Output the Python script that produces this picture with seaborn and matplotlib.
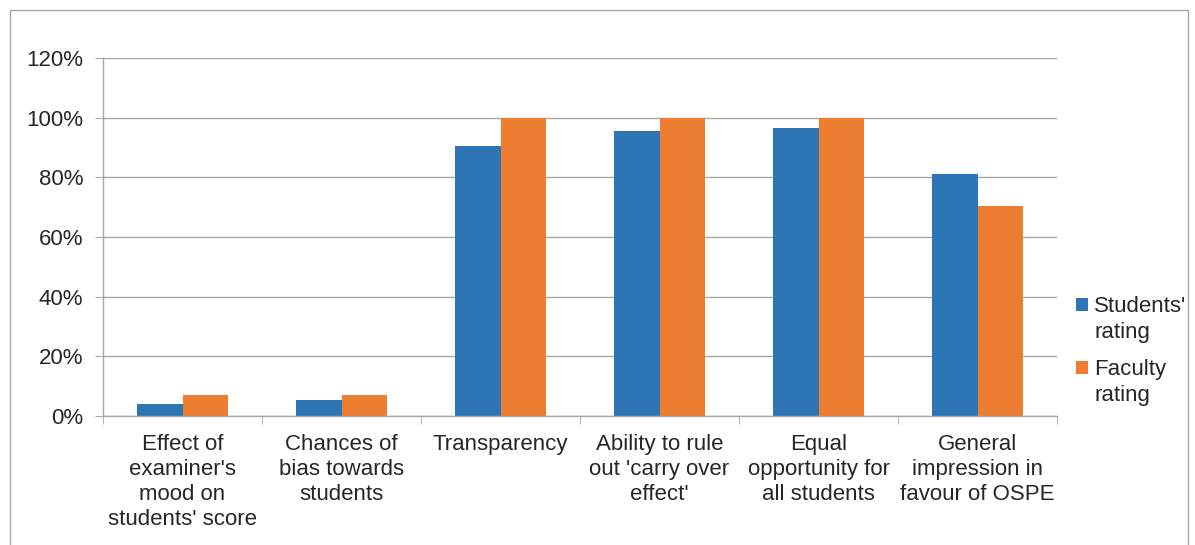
import pandas as pd
import matplotlib.pyplot as plt
import seaborn as sns
from matplotlib.patches import Rectangle
from matplotlib.ticker import PercentFormatter

categories = [
    "Effect of\nexaminer's\nmood on\nstudents' score",
    "Chances of\nbias towards\nstudents",
    "Transparency",
    "Ability to rule\nout 'carry over\neffect'",
    "Equal\nopportunity for\nall students",
    "General\nimpression in\nfavour of OSPE",
]
students_rating = [4, 5.5, 90.5, 95.5, 96.5, 81]
faculty_rating = [7, 7, 100, 100, 100, 70.5]
series_names = ["Students'\nrating", "Faculty\nrating"]

df = pd.DataFrame({
    "category": categories * 2,
    "rating": series_names[0:1] * len(categories) + series_names[1:2] * len(categories),
    "value": students_rating + faculty_rating,
})

sns.set_style("white")
plt.rcParams["font.family"] = ["Liberation Sans", "DejaVu Sans"]
fs = 16
W, H = 1195, 545

fig = plt.figure(figsize=(W / 100, H / 100), dpi=100)
ax = fig.add_axes([103 / W, 1 - 416 / H, (1057 - 103) / W, (416 - 58) / H])

sns.barplot(
    data=df, x="category", y="value", hue="rating",
    palette=["#2e75b6", "#ed7d31"], width=0.57, saturation=1,
    linewidth=0, ax=ax, legend=True,
)

ax.set_ylim(0, 120)
ax.set_xlim(-0.5, len(categories) - 0.5)
ax.set_yticks(range(0, 121, 20))
ax.yaxis.set_major_formatter(PercentFormatter(decimals=0))
ax.grid(axis="y", color="#a6a6a6", linewidth=1)
ax.set_axisbelow(True)
for s in ["top", "right"]:
    ax.spines[s].set_visible(False)
for s in ["left", "bottom"]:
    ax.spines[s].set_color("#a6a6a6")
    ax.spines[s].set_linewidth(1)
ax.set_xlabel("")
ax.set_ylabel("")

# category labels between boundary ticks
ax.set_xticks(range(len(categories)))
ax.set_xticklabels(categories, fontsize=fs, linespacing=1.25, va="top")
ax.tick_params(axis="x", length=0, pad=13)
ax.set_xticks([i - 0.5 for i in range(len(categories) + 1)], minor=True)
ax.tick_params(axis="x", which="minor", length=6, color="#a6a6a6", direction="out", bottom=True)
ax.tick_params(axis="y", length=6, color="#a6a6a6", direction="out", labelsize=fs, pad=8.3, left=True)

# legend: marker sits next to the first line of each label (Excel style)
handles, labels = ax.get_legend_handles_labels()
first_lines = [l.split("\n")[0] for l in labels]
leg = ax.legend(
    handles, first_lines,
    loc="upper left", bbox_to_anchor=(1076 / W, 1 - 296 / H), bbox_transform=fig.transFigure,
    frameon=False, borderpad=0, borderaxespad=0,
    fontsize=fs, handlelength=0.54, handleheight=0.54, handletextpad=0.28,
    labelspacing=1.89,
)
# second line of each label, drawn after the legend so its position is known
for t, full in zip(leg.get_texts(), labels):
    rest = "\n".join(full.split("\n")[1:])
    ax.annotate(rest, xy=(0, 0.5), xycoords=t, xytext=(0, -26), textcoords="offset pixels",
                ha="left", va="center", fontsize=fs, annotation_clip=False, zorder=10)

# outer chart frame
fig.patches.append(Rectangle((10 / W, -0.05), 1178 / W, 1 - 10 / H + 0.05,
                             transform=fig.transFigure, fill=False,
                             edgecolor="#a6a6a6", linewidth=1))

fig.savefig("out.png", dpi=100)
